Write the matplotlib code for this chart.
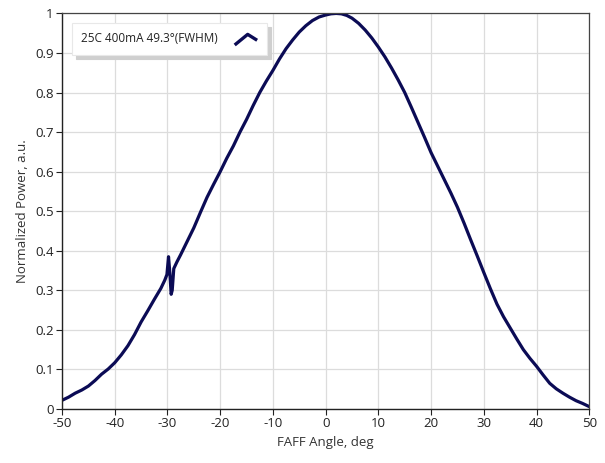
import numpy as np
import matplotlib
matplotlib.use("Agg")
import matplotlib.pyplot as plt
from matplotlib.lines import Line2D
from matplotlib.path import Path

plt.rcParams.update({
    "font.family": ["Open Sans", "DejaVu Sans"],
    "font.size": 9,
    "axes.unicode_minus": False,
})

angle = [-50, -48.75, -47.5, -46.25, -45, -43.75, -42.5, -41.25, -40, -38.75,
         -37.5, -36.25, -35, -33.75, -32.5, -31.25, -30.5, -30.1, -29.8, -29.55,
         -29.3, -29.1, -28.8, -28.2, -27.5, -26.25, -25, -23.75, -22.5, -21.25,
         -20, -18.75, -17.5, -16.25, -15, -13.75, -12.5, -11.25, -10, -8.75,
         -7.5, -6.25, -5, -3.75, -2.5, -1.25, 0, 1, 2, 3,
         4, 5, 6.25, 7.5, 8.75, 10, 11.25, 12.5, 13.75, 15,
         16.25, 17.5, 18.75, 20, 21.25, 22.5, 23.75, 25, 26.25, 27.5,
         28.75, 30, 31.25, 32.5, 33.75, 35, 36.25, 37.5, 38.75, 40,
         41.25, 42.5, 43.75, 45, 46.25, 47.5, 48.75, 50]
power = [0.022, 0.030, 0.040, 0.048, 0.058, 0.072, 0.088, 0.101, 0.117, 0.137,
         0.160, 0.188, 0.220, 0.248, 0.277, 0.305, 0.326, 0.340, 0.385, 0.345,
         0.290, 0.300, 0.355, 0.372, 0.390, 0.424, 0.458, 0.497, 0.535, 0.568,
         0.600, 0.634, 0.665, 0.700, 0.732, 0.767, 0.800, 0.829, 0.856, 0.885,
         0.911, 0.933, 0.953, 0.969, 0.982, 0.991, 0.996, 0.999, 1.000, 0.999,
         0.995, 0.988, 0.975, 0.958, 0.938, 0.915, 0.890, 0.862, 0.832, 0.800,
         0.763, 0.725, 0.687, 0.648, 0.614, 0.580, 0.546, 0.510, 0.470, 0.428,
         0.387, 0.345, 0.304, 0.265, 0.233, 0.205, 0.177, 0.150, 0.128, 0.108,
         0.086, 0.065, 0.051, 0.040, 0.030, 0.021, 0.014, 0.006]

xticks = list(range(-50, 51, 10))
yticks = [0, 0.1, 0.2, 0.3, 0.4, 0.5, 0.6, 0.7, 0.8, 0.9, 1]
ytick_labels = ["0", "0.1", "0.2", "0.3", "0.4", "0.5", "0.6", "0.7", "0.8", "0.9", "1"]
label = "25C 400mA 49.3°(FWHM)"

LINE = "#0b0b55"

fig = plt.figure(figsize=(6.05, 4.63), dpi=100)
ax = fig.add_axes([0.1025, 0.1166, 0.8715, 0.8544])

ax.plot(angle, power, color=LINE, linewidth=2.3, solid_joinstyle="round")

ax.set_xlim(-50, 50)
ax.set_ylim(0, 1)
ax.set_xticks(xticks)
ax.set_yticks(yticks)
ax.set_yticklabels(ytick_labels)
ax.grid(True, color="#dcdcdc", linewidth=0.9)
ax.set_axisbelow(True)
ax.tick_params(direction="out", length=4, width=0.8, colors="#222222",
               labelsize=9.5, pad=2)

for side in ["top", "right"]:
    ax.spines[side].set_color("#444444")
    ax.spines[side].set_linewidth(0.9)
for side in ["left", "bottom"]:
    ax.spines[side].set_color("#222222")
    ax.spines[side].set_linewidth(1.0)

ax.set_xlabel("FAFF Angle, deg", fontsize=9.5, color="#333333", labelpad=4)
ax.set_ylabel("Normalized Power, a.u.", fontsize=9.5, color="#333333", labelpad=4)

# legend icon: small caret-shaped stroke
caret = Path([(-1.0, -0.55), (0.1, 0.35), (0.9, -0.15)],
             [Path.MOVETO, Path.LINETO, Path.LINETO])
handle = Line2D([], [], linestyle="none", marker=caret, markersize=17,
                markerfacecolor="none", markeredgecolor=LINE, markeredgewidth=2.4)
leg = ax.legend([handle], [label], loc="upper left",
                bbox_to_anchor=(0.018, 0.976), markerfirst=False,
                frameon=True, fancybox=False,
                shadow={"color": "#cfcfcf", "ox": 3, "oy": -3, "alpha": 1},
                fontsize=8.5, handlelength=2.0, handletextpad=1.4,
                borderpad=0.8, borderaxespad=0)
leg.get_frame().set_edgecolor("#e8e8e8")
leg.get_frame().set_linewidth(0.8)
for t in leg.get_texts():
    t.set_color("#222222")

fig.savefig("out.png", dpi=100)
